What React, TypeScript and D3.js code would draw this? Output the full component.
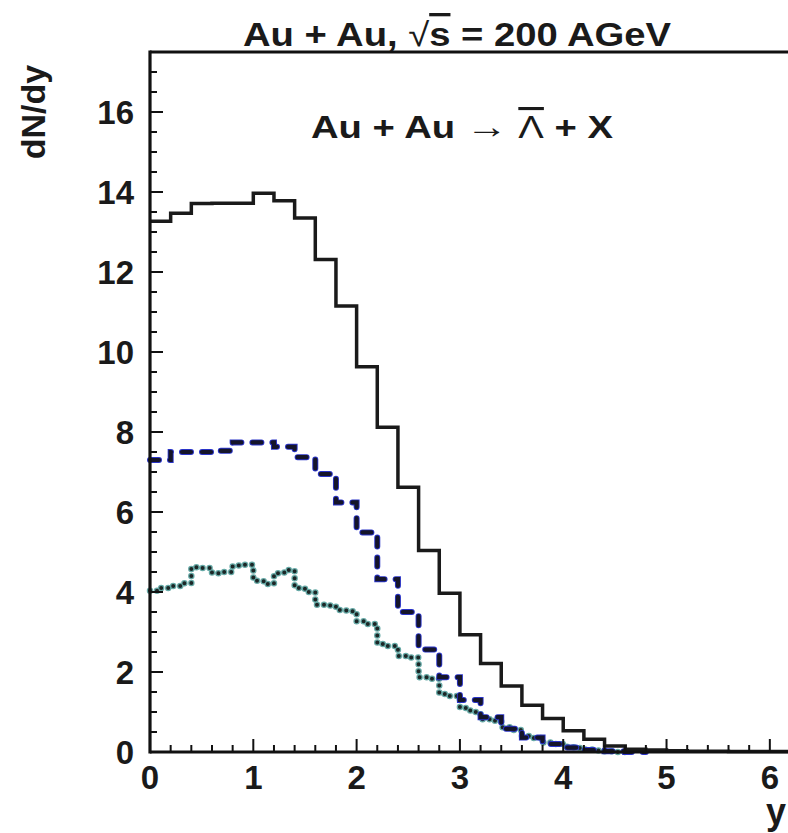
import React from "react";
import * as d3 from "d3";

// ---- data ----
const binWidthCoarse = 0.2;
const binWidthFine = 0.1;

// solid histogram: Au + Au -> anti-Lambda + X (total)
const solidValues = [
  13.27, 13.47, 13.71, 13.72, 13.72, 13.97, 13.78, 13.35, 12.31, 11.15,
  9.63, 8.12, 6.62, 5.04, 3.97, 2.93, 2.21, 1.65, 1.17, 0.84,
  0.53, 0.32, 0.15, 0.07, 0.05, 0.03, 0.02, 0.02, 0.01, 0.01, 0.01,
];

// dashed histogram
const dashedValues = [
  7.3, 7.5, 7.5, 7.53, 7.74, 7.74, 7.63, 7.37, 6.95, 6.24,
  5.49, 4.32, 3.5, 2.56, 1.87, 1.3, 0.87, 0.58, 0.36, 0.2,
  0.11, 0.05, 0.02, 0,
];

// dotted histogram (finer bins)
const dottedValues = [
  4.03, 4.1, 4.15, 4.22, 4.62, 4.6, 4.47, 4.5, 4.66, 4.68,
  4.28, 4.2, 4.47, 4.55, 4.1, 4.0, 3.68, 3.66, 3.55, 3.52,
  3.27, 3.2, 2.7, 2.65, 2.4, 2.36, 1.87, 1.83, 1.45, 1.4,
  1.1, 1.0, 0.82, 0.78, 0.62, 0.55, 0.4, 0.35, 0.24, 0.2,
  0.13, 0.1, 0.06, 0.04, 0.02, 0,
];

const xTickLabels = [0, 1, 2, 3, 4, 5, 6];
const yTickLabels = [0, 2, 4, 6, 8, 10, 12, 14, 16];

const titleText = "Au + Au, ";
const titleTail = " = 200 AGeV";
const xLabel = "y";
const yLabel = "dN/dy";

// ---- layout ----
const W = 788;
const H = 833;
const left = 150;
const right = 790.5;
const top = 52;
const bottom = 752;

const FONT = "'Liberation Sans', Arial, Helvetica, sans-serif";

export default function App() {
  const x = d3.scaleLinear().domain([0, 6.2]).range([left, right]);
  const y = d3.scaleLinear().domain([0, 17.5]).range([bottom, top]);

  const stepPath = (vals: number[], bw: number) => {
    const pts: [number, number][] = vals.map((v, i) => [i * bw, v]);
    pts.push([vals.length * bw, vals[vals.length - 1]]);
    const line = d3
      .line<[number, number]>()
      .x((d) => x(d[0]))
      .y((d) => y(d[1]))
      .curve(d3.curveStepAfter);
    return line(pts) || "";
  };

  const solidD = stepPath(solidValues, binWidthCoarse);
  const dashedD = stepPath(dashedValues, binWidthCoarse);
  const dottedD = stepPath(dottedValues, binWidthFine);

  const xMinor = d3.range(0, 6.21, 0.2).filter((v) => Math.abs(v - Math.round(v)) > 1e-6);
  const yMinor = d3.range(0, 17.5, 0.5).filter((v) => Math.abs(v / 2 - Math.round(v / 2)) > 1e-6);

  return (
    <svg
      width={W}
      height={H}
      style={{ position: "absolute", left: 0, top: 0, background: "#fff" }}
      fontFamily={FONT}
    >
      <rect x={0} y={0} width={W} height={H} fill="#fff" />

      {/* histograms */}
      <path d={dottedD} fill="none" stroke="#67a9a6" strokeWidth={6.5} strokeDasharray="0 7" strokeLinecap="round" />
      <path d={dottedD} fill="none" stroke="#1c2626" strokeWidth={4} strokeDasharray="0 7" strokeLinecap="round" />
      <path d={dashedD} fill="none" stroke="#2a34c8" strokeWidth={6} strokeDasharray="9 11" strokeLinecap="round" />
      <path d={dashedD} fill="none" stroke="#15152a" strokeWidth={4.2} strokeDasharray="9 11" strokeLinecap="round" />
      <path d={solidD} fill="none" stroke="#1a1a1a" strokeWidth={3.5} />

      {/* frame */}
      <line x1={left} x2={W} y1={top} y2={top} stroke="#111" strokeWidth={3} />
      <line x1={left} x2={left} y1={top - 1.5} y2={bottom + 1.5} stroke="#111" strokeWidth={3.2} />
      <line x1={left} x2={W} y1={bottom} y2={bottom} stroke="#111" strokeWidth={3.2} />

      {/* x ticks */}
      {xTickLabels.map((t) => (
        <line key={"xM" + t} x1={x(t)} x2={x(t)} y1={bottom} y2={bottom - 13} stroke="#111" strokeWidth={2} />
      ))}
      {xMinor.map((t, i) => (
        <line key={"xm" + i} x1={x(t)} x2={x(t)} y1={bottom} y2={bottom - 7} stroke="#111" strokeWidth={2} />
      ))}
      {/* y ticks */}
      {yTickLabels.map((t) => (
        <line key={"yM" + t} x1={left} x2={left + 13} y1={y(t)} y2={y(t)} stroke="#111" strokeWidth={2} />
      ))}
      {yMinor.map((t, i) => (
        <line key={"ym" + i} x1={left} x2={left + 7} y1={y(t)} y2={y(t)} stroke="#111" strokeWidth={2} />
      ))}

      {/* tick labels */}
      {xTickLabels.map((t) => (
        <text key={"xl" + t} x={x(t)} y={789} textAnchor="middle" fontSize={33} fontWeight="bold" fill="#1a1a1a">
          {t}
        </text>
      ))}
      {yTickLabels.map((t) => (
        <text key={"yl" + t} x={134} y={y(t) + 12} textAnchor="end" fontSize={33} fontWeight="bold" fill="#1a1a1a">
          {t}
        </text>
      ))}

      {/* axis titles */}
      <text x={786} y={824} textAnchor="end" fontSize={36} fontWeight="bold" fill="#1a1a1a">
        {xLabel}
      </text>
      <text
        transform={`translate(45,112) rotate(-90)`}
        textAnchor="middle"
        fontSize={34}
        fontWeight="bold"
        fill="#1a1a1a"
      >
        {yLabel}
      </text>

      {/* title */}
      <text
        x={243}
        y={46}
        fontSize={33}
        fontWeight="bold"
        fill="#1a1a1a"
        textLength={428}
        lengthAdjust="spacingAndGlyphs"
      >
        {titleText}
        <tspan fontWeight="normal">√</tspan>
        <tspan style={{ textDecoration: "overline" }}>s</tspan>
        {titleTail}
      </text>

      {/* reaction label */}
      <text
        x={311}
        y={138}
        fontSize={31}
        fontWeight="bold"
        fill="#1a1a1a"
        textLength={302}
        lengthAdjust="spacingAndGlyphs"
      >
        {"Au + Au "}
        <tspan fontWeight="normal" fontSize={34}>→</tspan>
        {" "}
        <tspan fontWeight="normal" style={{ textDecoration: "overline" }}>Λ</tspan>
        {" + X"}
      </text>
    </svg>
  );
}
